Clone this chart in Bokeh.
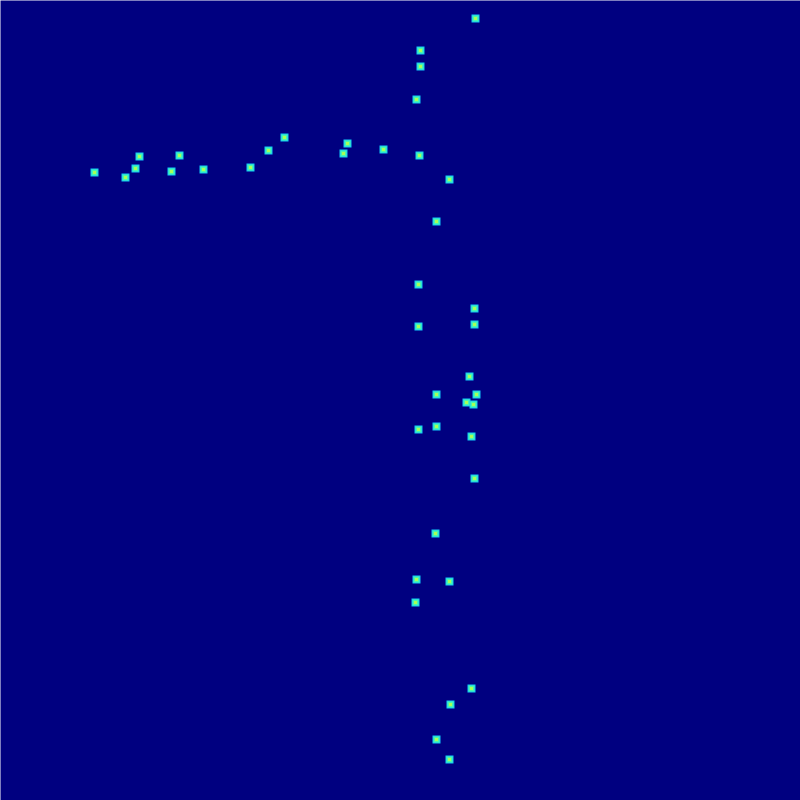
from bokeh.plotting import figure
from bokeh.models import Range1d
from bokeh.embed import file_html
from bokeh.resources import INLINE

xs = [475, 420, 420, 416, 284, 347, 383, 268, 343, 139, 179, 419, 135, 250,
      203, 171, 94, 125, 449, 436, 418, 474, 474, 418, 469, 436, 476, 466,
      473, 436, 418, 471, 474, 435, 416, 449, 415, 471, 450, 436, 449]
ys = [18, 50, 66, 99, 137, 143, 149, 150, 153, 156, 155, 155, 168, 167,
      169, 171, 172, 177, 179, 221, 284, 308, 324, 326, 376, 394, 394, 402,
      404, 426, 429, 436, 478, 533, 579, 581, 602, 688, 704, 739, 759]

BG = "#000080"

p = figure(width=800, height=800, output_backend="svg", toolbar_location=None,
           x_range=Range1d(0, 800), y_range=Range1d(800, 0),
           min_border=0, min_border_left=0, min_border_right=0,
           min_border_top=0, min_border_bottom=0)
p.axis.visible = False
p.grid.visible = False
p.outline_line_color = None
p.background_fill_color = BG
p.border_fill_color = BG

p.scatter(xs, ys, marker="square", size=8, fill_color="#10c8f8", line_color=None)
p.scatter(xs, ys, marker="square", size=6, fill_color="#48f8b0", line_color=None)
p.scatter(xs, ys, marker="square", size=3, fill_color="#a8ff58", line_color=None)

open("out.html", "w").write(file_html(p, INLINE))
